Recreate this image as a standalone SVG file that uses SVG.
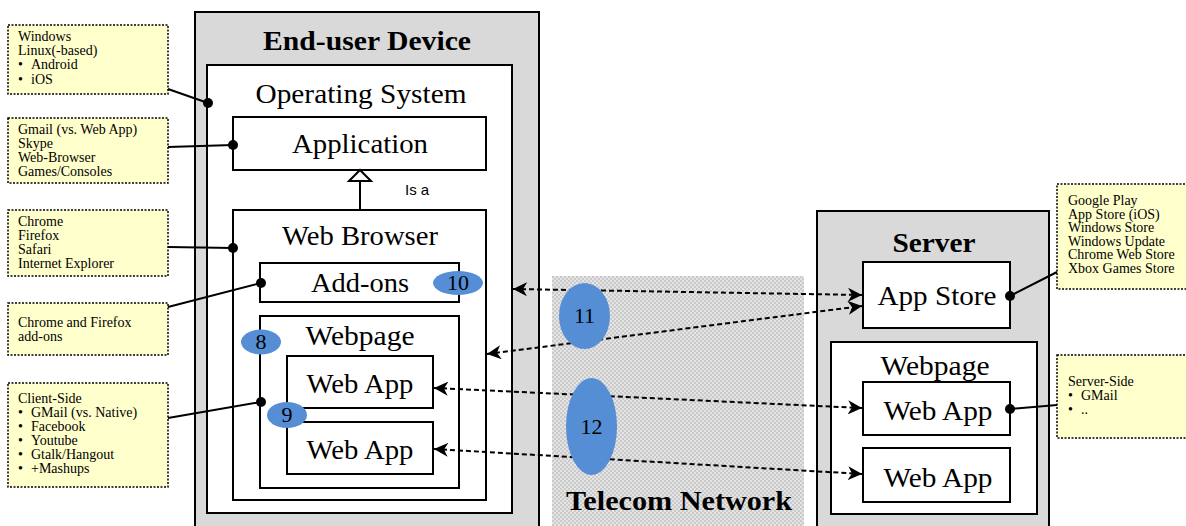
<svg xmlns="http://www.w3.org/2000/svg" width="1186" height="526" viewBox="0 0 1186 526">
<style>
.outer{fill:#d9d9d9;stroke:#000;stroke-width:2}
.box{fill:#fff;stroke:#000;stroke-width:2}
.lbl{font-family:"Liberation Serif",serif;font-size:27px;fill:#000;text-anchor:middle}
.ttl{font-family:"Liberation Serif",serif;font-size:27px;font-weight:bold;fill:#000;text-anchor:middle}
.note{fill:#ffffcc;stroke:#000;stroke-width:1.5;stroke-dasharray:2 1.5}
.nt{font-family:"Liberation Serif",serif;font-size:14px;fill:#000}
.link{stroke:#000;stroke-width:2;fill:none}
.dot{fill:#000}
.flow{stroke:#000;stroke-width:2;fill:none;stroke-dasharray:5 3;marker-start:url(#ah);marker-end:url(#ah)}
.badge{fill:#558ed5}
.bt{font-family:"Liberation Serif",serif;font-size:22px;fill:#000;text-anchor:middle}
</style>
<defs>
<marker id="ah" markerUnits="userSpaceOnUse" markerWidth="16" markerHeight="14" refX="14" refY="7" orient="auto-start-reverse" viewBox="0 0 16 14">
<path d="M0,0 L14,7 L0,14 L4,7 Z" fill="#000"/>
</marker>
<pattern id="chk" width="4" height="4" patternUnits="userSpaceOnUse">
<rect width="4" height="4" fill="#e4e4e4"/>
<rect width="2" height="2" fill="#cacaca"/>
<rect x="2" y="2" width="2" height="2" fill="#cacaca"/>
</pattern>
</defs>

<g id="telecom-network">
<rect x="552" y="276" width="252" height="252" fill="url(#chk)"/>
<text class="ttl" x="679" y="510" textLength="226" lengthAdjust="spacingAndGlyphs">Telecom Network</text>
</g>

<g id="end-user-device">
<rect class="outer" x="195" y="12" width="344" height="530"/>
<text class="ttl" x="367" y="50" textLength="208" lengthAdjust="spacingAndGlyphs">End-user Device</text>
</g>
<g id="operating-system">
<rect class="box" x="207" y="65" width="305" height="448"/>
<text class="lbl" x="361" y="103" textLength="211" lengthAdjust="spacingAndGlyphs">Operating System</text>
</g>
<g id="application">
<rect class="box" x="233" y="117" width="253" height="53"/>
<text class="lbl" x="360" y="153" textLength="136" lengthAdjust="spacingAndGlyphs">Application</text>
</g>
<g id="web-browser">
<rect class="box" x="233" y="210" width="253" height="290"/>
<text class="lbl" x="360" y="245" textLength="156" lengthAdjust="spacingAndGlyphs">Web Browser</text>
</g>
<g id="add-ons">
<rect class="box" x="260" y="263" width="199" height="39"/>
<text class="lbl" x="360" y="292" textLength="98" lengthAdjust="spacingAndGlyphs">Add-ons</text>
</g>
<g id="client-webpage">
<rect class="box" x="260" y="316" width="199" height="172"/>
<text class="lbl" x="360" y="345" textLength="109" lengthAdjust="spacingAndGlyphs">Webpage</text>
</g>
<g id="client-webapp-1">
<rect class="box" x="287" y="356" width="146" height="52"/>
<text class="lbl" x="360" y="393" textLength="107" lengthAdjust="spacingAndGlyphs">Web App</text>
</g>
<g id="client-webapp-2">
<rect class="box" x="287" y="422" width="146" height="52"/>
<text class="lbl" x="360" y="459" textLength="107" lengthAdjust="spacingAndGlyphs">Web App</text>
</g>

<g id="server">
<rect class="outer" x="817" y="211" width="232" height="330"/>
<text class="ttl" x="934" y="252" textLength="83" lengthAdjust="spacingAndGlyphs">Server</text>
</g>
<g id="app-store">
<rect class="box" x="863" y="262" width="147" height="66"/>
<text class="lbl" x="937" y="305" textLength="119" lengthAdjust="spacingAndGlyphs">App Store</text>
</g>
<g id="server-webpage">
<rect class="box" x="831" y="342" width="206" height="172"/>
<text class="lbl" x="935" y="375" textLength="109" lengthAdjust="spacingAndGlyphs">Webpage</text>
</g>
<g id="server-webapp-1">
<rect class="box" x="863" y="382" width="147" height="53"/>
<text class="lbl" x="938" y="420" textLength="109" lengthAdjust="spacingAndGlyphs">Web App</text>
</g>
<g id="server-webapp-2">
<rect class="box" x="863" y="448" width="147" height="54"/>
<text class="lbl" x="938" y="487" textLength="109" lengthAdjust="spacingAndGlyphs">Web App</text>
</g>

<g id="note-os">
<rect class="note" x="8" y="25" width="160" height="69"/>
<text class="nt" x="18" y="41">Windows</text>
<text class="nt" x="18" y="55">Linux(-based)</text>
<text class="nt" x="18" y="69">•<tspan x="31">Android</tspan></text>
<text class="nt" x="18" y="84">•<tspan x="31">iOS</tspan></text>
</g>
<g id="note-app">
<rect class="note" x="8" y="118" width="160" height="65"/>
<text class="nt" x="18" y="134">Gmail (vs. Web App)</text>
<text class="nt" x="18" y="148">Skype</text>
<text class="nt" x="18" y="162">Web-Browser</text>
<text class="nt" x="18" y="176">Games/Consoles</text>
</g>
<g id="note-browser">
<rect class="note" x="8" y="210" width="160" height="66"/>
<text class="nt" x="18" y="226">Chrome</text>
<text class="nt" x="18" y="240">Firefox</text>
<text class="nt" x="18" y="254">Safari</text>
<text class="nt" x="18" y="268">Internet Explorer</text>
</g>
<g id="note-addons">
<rect class="note" x="8" y="303" width="160" height="52"/>
<text class="nt" x="18" y="327">Chrome and Firefox</text>
<text class="nt" x="18" y="341">add-ons</text>
</g>
<g id="note-client">
<rect class="note" x="8" y="383" width="160" height="104"/>
<text class="nt" x="18" y="403">Client-Side</text>
<text class="nt" x="18" y="417">•<tspan x="31">GMail (vs. Native)</tspan></text>
<text class="nt" x="18" y="431">•<tspan x="31">Facebook</tspan></text>
<text class="nt" x="18" y="445">•<tspan x="31">Youtube</tspan></text>
<text class="nt" x="18" y="459">•<tspan x="31">Gtalk/Hangout</tspan></text>
<text class="nt" x="18" y="473">•<tspan x="31">+Mashups</tspan></text>
</g>
<g id="note-stores">
<rect class="note" x="1057" y="184" width="140" height="105"/>
<text class="nt" x="1068" y="205">Google Play</text>
<text class="nt" x="1068" y="219">App Store (iOS)</text>
<text class="nt" x="1068" y="232">Windows Store</text>
<text class="nt" x="1068" y="246">Windows Update</text>
<text class="nt" x="1068" y="259">Chrome Web Store</text>
<text class="nt" x="1068" y="273">Xbox Games Store</text>
</g>
<g id="note-server">
<rect class="note" x="1057" y="355" width="140" height="83"/>
<text class="nt" x="1068" y="386">Server-Side</text>
<text class="nt" x="1068" y="400">•<tspan x="1081">GMail</tspan></text>
<text class="nt" x="1068" y="414">•<tspan x="1081">..</tspan></text>
</g>

<g id="connectors">
<path class="link" d="M360,210 V181"/>
<path d="M360,170 L371,181 L349,181 Z" fill="#fff" stroke="#000" stroke-width="2"/>
<text x="405" y="195" font-family="Liberation Sans, Arial, sans-serif" font-size="15">Is a</text>
<path class="link" d="M168,89 L208,103"/><circle class="dot" cx="208" cy="103" r="5"/>
<path class="link" d="M168,147 L233,145"/><circle class="dot" cx="233" cy="145" r="5"/>
<path class="link" d="M168,247 L233,248"/><circle class="dot" cx="233" cy="248" r="5"/>
<path class="link" d="M168,307 L261,283"/><circle class="dot" cx="261" cy="283" r="5"/>
<path class="link" d="M168,418 L261,402"/><circle class="dot" cx="261" cy="402" r="5"/>
<path class="link" d="M1010,296 L1057,272"/><circle class="dot" cx="1010" cy="296" r="5"/>
<path class="link" d="M1010,409 L1057,405"/><circle class="dot" cx="1010" cy="409" r="5"/>
<path class="flow" d="M513,289 L862,295"/>
<path class="flow" d="M487,354 L862,306"/>
<path class="flow" d="M434,388 L862,408"/>
<path class="flow" d="M434,449 L862,474"/>
</g>

<g id="badges">
<ellipse class="badge" cx="458" cy="283" rx="25" ry="12"/><text class="bt" x="458" y="290">10</text>
<ellipse class="badge" cx="261" cy="342" rx="20" ry="12.5"/><text class="bt" x="261" y="349">8</text>
<ellipse class="badge" cx="287" cy="415" rx="20" ry="13"/><text class="bt" x="287" y="422">9</text>
<ellipse class="badge" cx="584.5" cy="316" rx="25.5" ry="33"/><text class="bt" x="584.5" y="323">11</text>
<ellipse class="badge" cx="591.5" cy="426.5" rx="25.5" ry="48.5"/><text class="bt" x="591.5" y="434">12</text>
</g>
</svg>
